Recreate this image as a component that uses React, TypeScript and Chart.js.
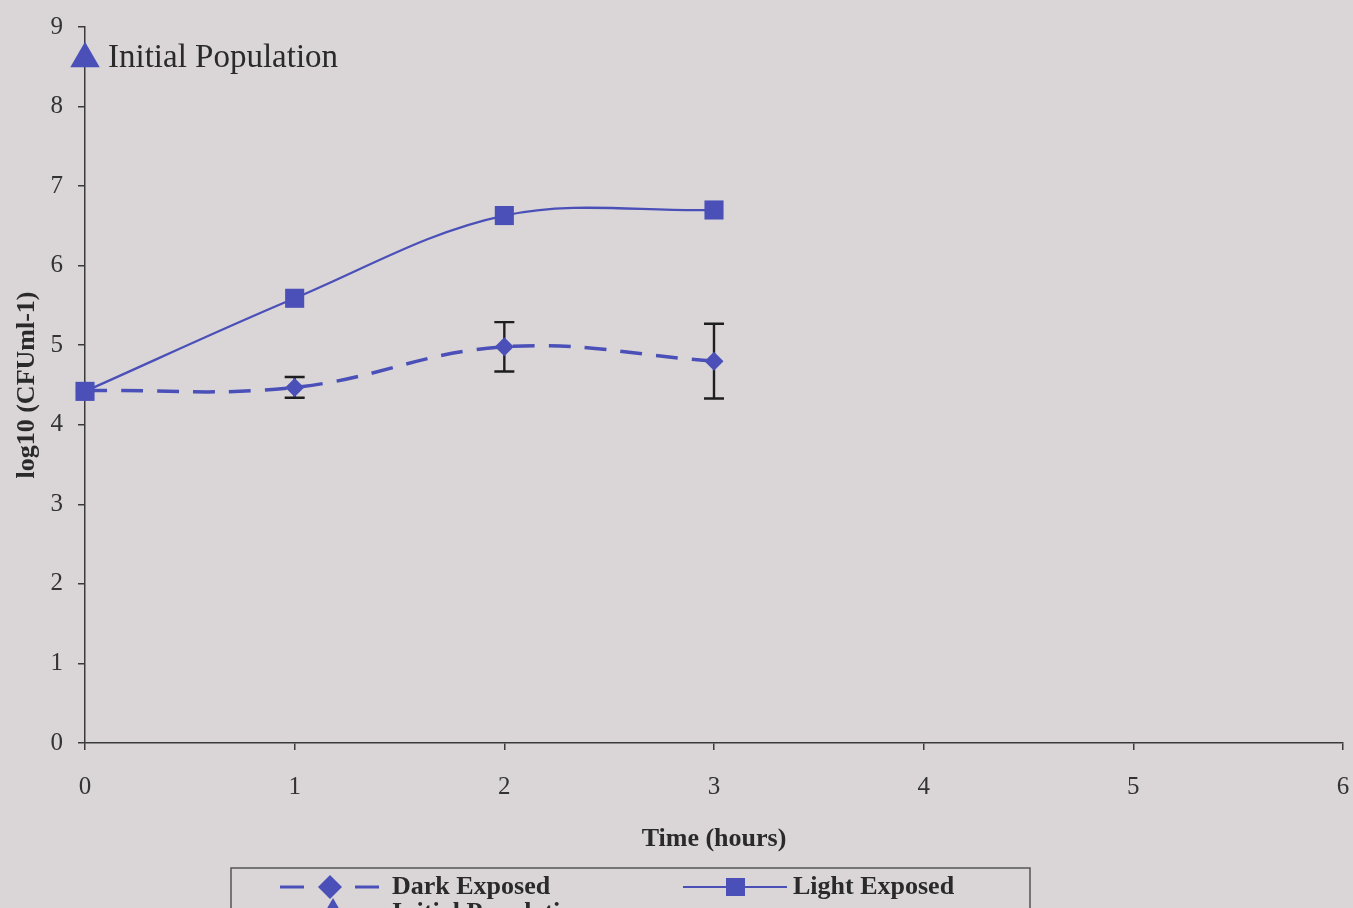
import React, { useEffect, useRef } from "react";
import { Chart, registerables } from "chart.js";

Chart.register(...registerables);

// ---- data ----
const hours = [0, 1, 2, 3];
const lightExposed = [4.42, 5.59, 6.63, 6.7];
const darkExposed = [4.43, 4.47, 4.98, 4.8];
const darkError = [0, 0.13, 0.31, 0.47];
const initialHours = [0];
const initialPopulation = [8.6];
const xTicks = [0, 1, 2, 3, 4, 5, 6];
const yTicks = [0, 1, 2, 3, 4, 5, 6, 7, 8, 9];

const BLUE = "#4a50b8";
const INK = "#2a2a2a";
const BG = "#dad6d8";
const SERIF = "'Liberation Serif', 'Times New Roman', serif";

const bgPlugin = {
  id: "bg",
  beforeDraw(chart: any) {
    const ctx = chart.ctx;
    ctx.save();
    ctx.fillStyle = BG;
    ctx.fillRect(0, 0, chart.width, chart.height);
    ctx.restore();
  },
};

const errorBarPlugin = {
  id: "errorBars",
  beforeDatasetsDraw(chart: any) {
    const ctx = chart.ctx;
    const xs = chart.scales.x;
    const ys = chart.scales.y;
    ctx.save();
    ctx.strokeStyle = "#1e1e1e";
    ctx.lineWidth = 2.4;
    ctx.setLineDash([]);
    hours.forEach((h, i) => {
      const e = darkError[i];
      if (!e) return;
      const x = xs.getPixelForValue(h);
      const yTop = ys.getPixelForValue(darkExposed[i] + e);
      const yBot = ys.getPixelForValue(darkExposed[i] - e);
      ctx.beginPath();
      ctx.moveTo(x, yTop);
      ctx.lineTo(x, yBot);
      ctx.moveTo(x - 10, yTop);
      ctx.lineTo(x + 10, yTop);
      ctx.moveTo(x - 10, yBot);
      ctx.lineTo(x + 10, yBot);
      ctx.stroke();
    });
    ctx.restore();
  },
};

const labelPlugin = {
  id: "initLabel",
  afterDatasetsDraw(chart: any) {
    const ctx = chart.ctx;
    const xs = chart.scales.x;
    const ys = chart.scales.y;
    ctx.save();
    ctx.fillStyle = INK;
    ctx.font = `33px ${SERIF}`;
    ctx.textBaseline = "middle";
    ctx.textAlign = "left";
    const x = xs.getPixelForValue(initialHours[0]);
    const y = ys.getPixelForValue(initialPopulation[0]);
    ctx.fillText("Initial Population", x + 23, y);
    ctx.restore();
  },
};

function drawTriangle(ctx: any, x: number, y: number, r: number) {
  ctx.beginPath();
  ctx.moveTo(x, y - r);
  ctx.lineTo(x + r * 0.866, y + r * 0.5);
  ctx.lineTo(x - r * 0.866, y + r * 0.5);
  ctx.closePath();
  ctx.fill();
}

const legendPlugin = {
  id: "boxLegend",
  afterDraw(chart: any) {
    const ctx = chart.ctx;
    const ds = chart.data.datasets;
    ctx.save();
    ctx.strokeStyle = "#555";
    ctx.lineWidth = 1.5;
    ctx.strokeRect(231, 868, 799, 60);
    ctx.font = `bold 26px ${SERIF}`;
    ctx.textBaseline = "middle";
    ctx.fillStyle = INK;
    // Dark exposed
    const y1 = 887;
    ctx.strokeStyle = BLUE;
    ctx.lineWidth = 3;
    ctx.beginPath();
    ctx.moveTo(280, y1);
    ctx.lineTo(304, y1);
    ctx.moveTo(355, y1);
    ctx.lineTo(379, y1);
    ctx.stroke();
    ctx.fillStyle = BLUE;
    ctx.beginPath();
    ctx.moveTo(330, y1 - 12);
    ctx.lineTo(342, y1);
    ctx.lineTo(330, y1 + 12);
    ctx.lineTo(318, y1);
    ctx.closePath();
    ctx.fill();
    ctx.fillStyle = INK;
    ctx.fillText(ds[0].label, 392, y1);
    // Light exposed
    ctx.strokeStyle = BLUE;
    ctx.lineWidth = 2;
    ctx.beginPath();
    ctx.moveTo(683, y1);
    ctx.lineTo(787, y1);
    ctx.stroke();
    ctx.fillStyle = BLUE;
    ctx.fillRect(726, y1 - 9, 19, 18);
    ctx.fillStyle = INK;
    ctx.fillText(ds[1].label, 793, y1);
    // Initial population
    const y2 = 913;
    ctx.fillStyle = BLUE;
    drawTriangle(ctx, 333, y2, 15);
    ctx.fillStyle = INK;
    ctx.fillText(ds[2].label, 392, y2);
    ctx.restore();
  },
};

export default function App() {
  const ref = useRef<HTMLCanvasElement | null>(null);

  useEffect(() => {
    document.body.style.margin = "0";
    document.body.style.background = BG;
    const canvas = ref.current;
    if (!canvas) return;
    const chart = new Chart(canvas, {
      type: "line",
      data: {
        datasets: [
          {
            label: "Dark Exposed",
            data: hours.map((h, i) => ({ x: h, y: darkExposed[i] })),
            borderColor: BLUE,
            backgroundColor: BLUE,
            borderWidth: 3.5,
            borderDash: [22, 14],
            pointStyle: "rectRot",
            pointRadius: 9.5,
            pointBorderWidth: 0,
            tension: 0.4,
            clip: false,
          },
          {
            label: "Light Exposed",
            data: hours.map((h, i) => ({ x: h, y: lightExposed[i] })),
            borderColor: BLUE,
            backgroundColor: BLUE,
            borderWidth: 2.3,
            pointStyle: "rect",
            pointRadius: 13.5,
            pointBorderWidth: 0,
            tension: 0.35,
            clip: false,
          },
          {
            label: "Initial Population",
            data: initialHours.map((h, i) => ({ x: h, y: initialPopulation[i] })),
            borderColor: BLUE,
            backgroundColor: BLUE,
            showLine: false,
            pointStyle: "triangle",
            pointRadius: 17,
            pointBorderWidth: 0,
            clip: false,
          },
        ] as any,
      },
      plugins: [bgPlugin, errorBarPlugin, labelPlugin, legendPlugin],
      options: {
        responsive: false,
        animation: false,
        events: [],
        layout: {
          autoPadding: false,
          padding: { left: 0, right: 10, top: 27, bottom: 0 },
        },
        plugins: {
          legend: { display: false },
          tooltip: { enabled: false },
        },
        scales: {
          x: {
            type: "linear",
            min: xTicks[0],
            max: xTicks[xTicks.length - 1],
            afterFit: (s: any) => {
              s.height = 165;
              s.paddingLeft = 0;
              s.paddingRight = 0;
            },
            afterBuildTicks: (s: any) => {
              s.ticks = xTicks.map((v) => ({ value: v }));
            },
            grid: {
              drawOnChartArea: false,
              drawTicks: true,
              tickLength: 7,
              color: "#3a3a3a",
              lineWidth: 1.5,
            },
            border: { display: true, color: "#3a3a3a", width: 1.5 },
            ticks: {
              color: "#333",
              padding: 22,
              font: { family: SERIF, size: 25 },
            },
            title: {
              display: true,
              text: "Time (hours)",
              color: INK,
              font: { family: SERIF, size: 26, weight: "bold" },
              padding: { top: 0, bottom: 53 },
            },
          },
          y: {
            type: "linear",
            min: yTicks[0],
            max: yTicks[yTicks.length - 1],
            afterFit: (s: any) => {
              s.width = 85;
              s.paddingTop = 0;
              s.paddingBottom = 0;
            },
            afterBuildTicks: (s: any) => {
              s.ticks = yTicks.map((v) => ({ value: v }));
            },
            grid: {
              drawOnChartArea: false,
              drawTicks: true,
              tickLength: 7,
              color: "#3a3a3a",
              lineWidth: 1.5,
            },
            border: { display: true, color: "#3a3a3a", width: 1.5 },
            ticks: {
              color: "#333",
              padding: 15,
              font: { family: SERIF, size: 25 },
            },
            title: {
              display: true,
              text: "log10 (CFUml-1)",
              color: INK,
              font: { family: SERIF, size: 26, weight: "bold" },
              padding: { top: 12, bottom: 0 },
            },
          },
        },
      } as any,
    });
    return () => chart.destroy();
  }, []);

  return (
    <canvas
      ref={ref}
      width={1353}
      height={908}
      style={{ display: "block", width: 1353, height: 908 }}
    />
  );
}
